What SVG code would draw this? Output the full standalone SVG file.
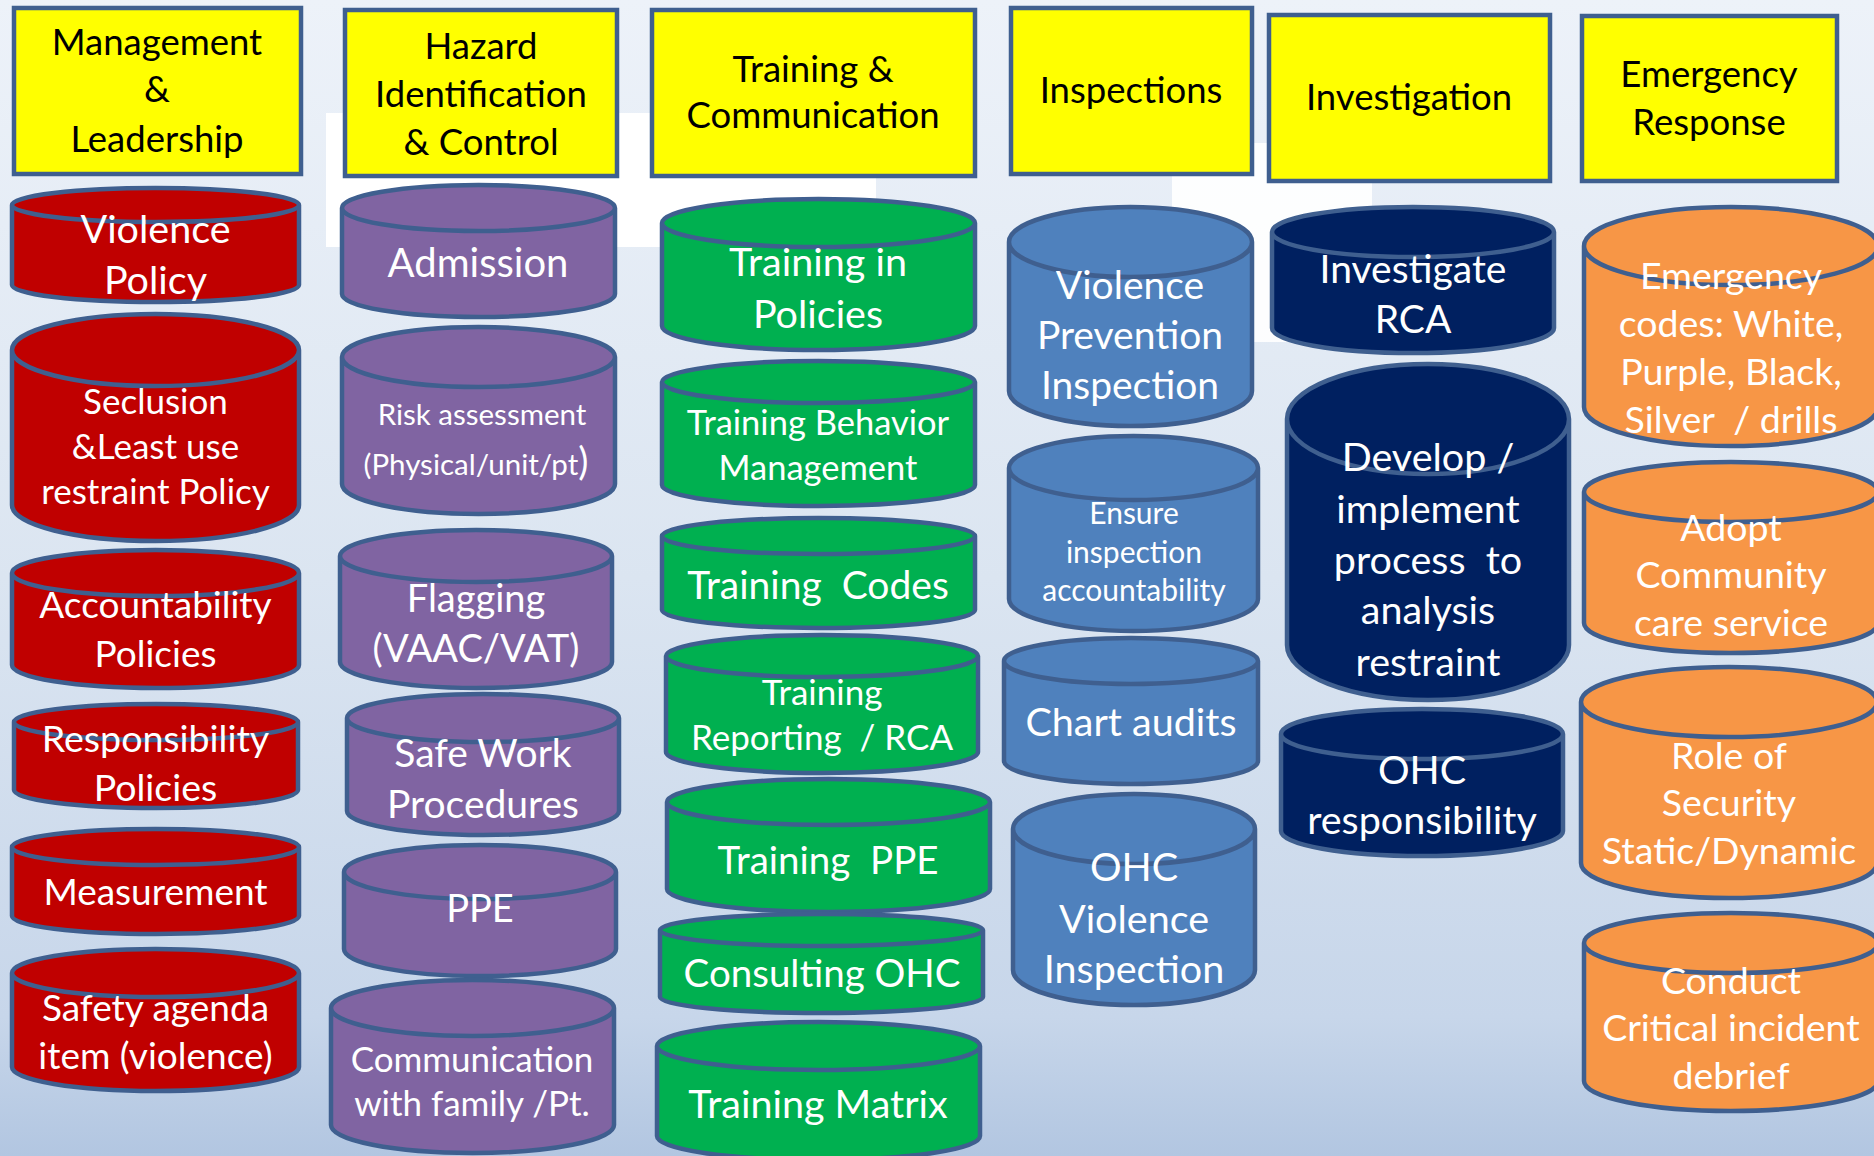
<svg xmlns="http://www.w3.org/2000/svg" width="1874" height="1156" viewBox="0 0 1874 1156">
<defs>
<linearGradient id="bg" x1="0" y1="0" x2="0" y2="1">
<stop offset="0" stop-color="#edf2f9"/>
<stop offset="0.5" stop-color="#dbe5f1"/>
<stop offset="0.88" stop-color="#c7d6ea"/>
<stop offset="1" stop-color="#b2c6e1"/>
</linearGradient>
<style>
.hdr{fill:#ffff00;stroke:#3f5f8f;stroke-width:4.5}
.cyl{stroke:#3f5f8f;stroke-width:4.5;stroke-linejoin:round}
.red{fill:#c00000}.pur{fill:#8064a2}.grn{fill:#00b050}.blu{fill:#4f81bd}.nav{fill:#002060}.org{fill:#f79646}
text{font-family:Lato,"Liberation Sans",sans-serif;text-anchor:middle}
.h{fill:#000;font-size:36.5px}
.w{fill:#fff}
</style>
</defs>
<rect width="1874" height="1156" fill="url(#bg)"/>
<rect x="326" y="113" width="550" height="134" fill="#ffffff"/>
<rect x="1172" y="143" width="200" height="199" fill="#ffffff" opacity="0.9"/>

<g id="headers">
<g id="h-management"><rect class="hdr" x="14" y="8" width="287" height="166"/>
<text class="h" x="157" y="55">Management</text><text class="h" x="157" y="102">&amp;</text><text class="h" x="157" y="152">Leadership</text></g>
<g id="h-hazard"><rect class="hdr" x="345" y="10" width="272" height="166"/>
<text class="h" x="481" y="59">Hazard</text><text class="h" x="481" y="107">Identification</text><text class="h" x="481" y="155">&amp; Control</text></g>
<g id="h-training"><rect class="hdr" x="652" y="10" width="323" height="166"/>
<text class="h" x="813" y="82">Training &amp;</text><text class="h" x="813" y="128">Communication</text></g>
<g id="h-inspections"><rect class="hdr" x="1011" y="8" width="241" height="166"/>
<text class="h" x="1131" y="103">Inspections</text></g>
<g id="h-investigation"><rect class="hdr" x="1269" y="15" width="281" height="166"/>
<text class="h" x="1409" y="110">Investigation</text></g>
<g id="h-emergency"><rect class="hdr" x="1582" y="16" width="255" height="165"/>
<text class="h" x="1709" y="87">Emergency</text><text class="h" x="1709" y="135">Response</text></g>
</g>

<g id="c-violence-policy"><path class="cyl red" d="M12 205V285A143.5 17 0 0 0 299 285V205A143.5 17 0 0 0 12 205ZM12 205A143.5 17 0 0 0 299 205"/>
<text class="w" style="font-size:39.5px" x="155.5" y="243">Violence</text><text class="w" style="font-size:39.5px" x="155.5" y="294">Policy</text></g>
<g id="c-seclusion"><path class="cyl red" d="M12 350V505A143.5 36 0 0 0 299 505V350A143.5 36 0 0 0 12 350ZM12 350A143.5 36 0 0 0 299 350"/>
<text class="w" style="font-size:35px" x="155.5" y="414">Seclusion</text><text class="w" style="font-size:35px" x="155.5" y="459">&amp;Least use</text><text class="w" style="font-size:35px" x="155.5" y="504">restraint Policy</text></g>
<g id="c-accountability"><path class="cyl red" d="M12 573V665A143.5 23 0 0 0 299 665V573A143.5 23 0 0 0 12 573ZM12 573A143.5 23 0 0 0 299 573"/>
<text class="w" style="font-size:37px" x="155.5" y="618">Accountability</text><text class="w" style="font-size:37px" x="155.5" y="667">Policies</text></g>
<g id="c-responsibility"><path class="cyl red" d="M14 722V790A142 18 0 0 0 298 790V722A142 18 0 0 0 14 722ZM14 722A142 18 0 0 0 298 722"/>
<text class="w" style="font-size:37.5px" x="155.5" y="752">Responsibility</text><text class="w" style="font-size:37.5px" x="155.5" y="801">Policies</text></g>
<g id="c-measurement"><path class="cyl red" d="M12 847V916A143.5 18 0 0 0 299 916V847A143.5 18 0 0 0 12 847ZM12 847A143.5 18 0 0 0 299 847"/>
<text class="w" style="font-size:37px" x="155.5" y="905">Measurement</text></g>
<g id="c-safety-agenda"><path class="cyl red" d="M12 973V1067A143.5 24 0 0 0 299 1067V973A143.5 24 0 0 0 12 973ZM12 973A143.5 24 0 0 0 299 973"/>
<text class="w" style="font-size:37px" x="155.5" y="1021">Safety agenda</text><text class="w" style="font-size:37px" x="155.5" y="1069">item (violence)</text></g>

<g id="c-admission"><path class="cyl pur" d="M342 208V294A136.5 23 0 0 0 615 294V208A136.5 23 0 0 0 342 208ZM342 208A136.5 23 0 0 0 615 208"/>
<text class="w" style="font-size:40px" x="478" y="277">Admission</text></g>
<g id="c-risk"><path class="cyl pur" d="M342 357V484A136.5 30 0 0 0 615 484V357A136.5 30 0 0 0 342 357ZM342 357A136.5 30 0 0 0 615 357"/>
<text class="w" style="font-size:29.5px" x="482" y="425">Risk assessment</text><text class="w" style="font-size:29.5px" x="476" y="475">(Physical/unit/pt<tspan style="font-size:38px">)</tspan></text></g>
<g id="c-flagging"><path class="cyl pur" d="M340 556V662A136 26 0 0 0 612 662V556A136 26 0 0 0 340 556ZM340 556A136 26 0 0 0 612 556"/>
<text class="w" style="font-size:38px" x="476" y="612">Flagging</text><text class="w" style="font-size:38px" x="476" y="662">(VAAC/VAT)</text></g>
<g id="c-safe-work"><path class="cyl pur" d="M347 718V811A136 24 0 0 0 619 811V718A136 24 0 0 0 347 718ZM347 718A136 24 0 0 0 619 718"/>
<text class="w" style="font-size:39px" x="483" y="767">Safe Work</text><text class="w" style="font-size:39px" x="483" y="818">Procedures</text></g>
<g id="c-ppe"><path class="cyl pur" d="M344 872V949A136 27 0 0 0 616 949V872A136 27 0 0 0 344 872ZM344 872A136 27 0 0 0 616 872"/>
<text class="w" style="font-size:38px" x="480" y="922">PPE</text></g>
<g id="c-communication"><path class="cyl pur" d="M331 1008V1125A141.5 28 0 0 0 614 1125V1008A141.5 28 0 0 0 331 1008ZM331 1008A141.5 28 0 0 0 614 1008"/>
<text class="w" style="font-size:35px" x="472" y="1072">Communication</text><text class="w" style="font-size:35px" x="472" y="1116">with family /Pt.</text></g>

<g id="c-training-policies"><path class="cyl grn" d="M662 223V326A156.5 24 0 0 0 975 326V223A156.5 24 0 0 0 662 223ZM662 223A156.5 24 0 0 0 975 223"/>
<text class="w" style="font-size:39.5px" x="818" y="276">Training in</text><text class="w" style="font-size:39.5px" x="818" y="328">Policies</text></g>
<g id="c-training-behavior"><path class="cyl grn" d="M662 382V485A156.5 21 0 0 0 975 485V382A156.5 21 0 0 0 662 382ZM662 382A156.5 21 0 0 0 975 382"/>
<text class="w" style="font-size:34.5px" x="818" y="435">Training Behavior</text><text class="w" style="font-size:34.5px" x="818" y="480">Management</text></g>
<g id="c-training-codes"><path class="cyl grn" d="M662 536V610A156.5 18 0 0 0 975 610V536A156.5 18 0 0 0 662 536ZM662 536A156.5 18 0 0 0 975 536"/>
<text class="w" style="font-size:39px" x="818" y="599" xml:space="preserve">Training  Codes</text></g>
<g id="c-training-reporting"><path class="cyl grn" d="M666 656V752A156 21 0 0 0 978 752V656A156 21 0 0 0 666 656ZM666 656A156 21 0 0 0 978 656"/>
<text class="w" style="font-size:35px" x="822" y="705">Training</text><text class="w" style="font-size:35px" x="822" y="750" xml:space="preserve">Reporting  / RCA</text></g>
<g id="c-training-ppe"><path class="cyl grn" d="M667 802V889A161.5 23 0 0 0 990 889V802A161.5 23 0 0 0 667 802ZM667 802A161.5 23 0 0 0 990 802"/>
<text class="w" style="font-size:38.5px" x="828" y="874" xml:space="preserve">Training  PPE</text></g>
<g id="c-consulting"><path class="cyl grn" d="M660 930V997A161.5 16 0 0 0 983 997V930A161.5 16 0 0 0 660 930ZM660 930A161.5 16 0 0 0 983 930"/>
<text class="w" style="font-size:38.5px" x="822" y="987">Consulting OHC</text></g>
<g id="c-training-matrix"><path class="cyl grn" d="M657 1046V1136A161.5 24 0 0 0 980 1136V1046A161.5 24 0 0 0 657 1046ZM657 1046A161.5 24 0 0 0 980 1046"/>
<text class="w" style="font-size:39.5px" x="818" y="1118">Training Matrix</text></g>

<g id="c-vpi"><path class="cyl blu" d="M1009 242V391A121.5 35 0 0 0 1252 391V242A121.5 35 0 0 0 1009 242ZM1009 242A121.5 35 0 0 0 1252 242"/>
<text class="w" style="font-size:39px" x="1130" y="299">Violence</text><text class="w" style="font-size:39px" x="1130" y="349">Prevention</text><text class="w" style="font-size:39px" x="1130" y="399">Inspection</text></g>
<g id="c-ensure"><path class="cyl blu" d="M1009 468V599A124.5 32 0 0 0 1258 599V468A124.5 32 0 0 0 1009 468ZM1009 468A124.5 32 0 0 0 1258 468"/>
<text class="w" style="font-size:30px" x="1134" y="524">Ensure</text><text class="w" style="font-size:30px" x="1134" y="563">inspection</text><text class="w" style="font-size:30px" x="1134" y="601">accountability</text></g>
<g id="c-chart"><path class="cyl blu" d="M1004 661V761A127 23 0 0 0 1258 761V661A127 23 0 0 0 1004 661ZM1004 661A127 23 0 0 0 1258 661"/>
<text class="w" style="font-size:39.5px" x="1131" y="736">Chart audits</text></g>
<g id="c-ohc-vi"><path class="cyl blu" d="M1013 829V970A121 35 0 0 0 1255 970V829A121 35 0 0 0 1013 829ZM1013 829A121 35 0 0 0 1255 829"/>
<text class="w" style="font-size:39.5px" x="1134" y="881">OHC</text><text class="w" style="font-size:39.5px" x="1134" y="933">Violence</text><text class="w" style="font-size:39.5px" x="1134" y="983">Inspection</text></g>

<g id="c-investigate"><path class="cyl nav" d="M1272 232V328A141 25 0 0 0 1554 328V232A141 25 0 0 0 1272 232ZM1272 232A141 25 0 0 0 1554 232"/>
<text class="w" style="font-size:39px" x="1413" y="283">Investigate</text><text class="w" style="font-size:39px" x="1413" y="333">RCA</text></g>
<g id="c-develop"><path class="cyl nav" d="M1287 419V645A141 55 0 0 0 1569 645V419A141 55 0 0 0 1287 419ZM1287 419A141 55 0 0 0 1569 419"/>
<text class="w" style="font-size:39.5px" x="1428" y="471">Develop /</text><text class="w" style="font-size:39.5px" x="1428" y="523">implement</text><text class="w" style="font-size:39.5px" x="1428" y="574" xml:space="preserve">process  to</text><text class="w" style="font-size:39.5px" x="1428" y="624">analysis</text><text class="w" style="font-size:39.5px" x="1428" y="676">restraint</text></g>
<g id="c-ohc-resp"><path class="cyl nav" d="M1281 734V831A141 25 0 0 0 1563 831V734A141 25 0 0 0 1281 734ZM1281 734A141 25 0 0 0 1563 734"/>
<text class="w" style="font-size:39.5px" x="1422" y="784">OHC</text><text class="w" style="font-size:39.5px" x="1422" y="834">responsibility</text></g>

<g id="c-emergency-codes"><path class="cyl org" d="M1584 246V407A147 39 0 0 0 1878 407V246A147 39 0 0 0 1584 246ZM1584 246A147 39 0 0 0 1878 246"/>
<text class="w" style="font-size:37.5px" x="1731" y="289">Emergency</text><text class="w" style="font-size:37.5px" x="1731" y="337">codes: White,</text><text class="w" style="font-size:37.5px" x="1731" y="385">Purple, Black,</text><text class="w" style="font-size:37.5px" x="1731" y="433" xml:space="preserve">Silver  / drills</text></g>
<g id="c-adopt"><path class="cyl org" d="M1584 492V623A147 30 0 0 0 1878 623V492A147 30 0 0 0 1584 492ZM1584 492A147 30 0 0 0 1878 492"/>
<text class="w" style="font-size:37.5px" x="1731" y="541">Adopt</text><text class="w" style="font-size:37.5px" x="1731" y="588">Community</text><text class="w" style="font-size:37.5px" x="1731" y="636">care service</text></g>
<g id="c-role-security"><path class="cyl org" d="M1581 702V863A148 35 0 0 0 1877 863V702A148 35 0 0 0 1581 702ZM1581 702A148 35 0 0 0 1877 702"/>
<text class="w" style="font-size:37.5px" x="1729" y="769">Role of</text><text class="w" style="font-size:37.5px" x="1729" y="816">Security</text><text class="w" style="font-size:37.5px" x="1729" y="864">Static/Dynamic</text></g>
<g id="c-conduct"><path class="cyl org" d="M1584 943V1081A147 30 0 0 0 1878 1081V943A147 30 0 0 0 1584 943ZM1584 943A147 30 0 0 0 1878 943"/>
<text class="w" style="font-size:37.5px" x="1731" y="994">Conduct</text><text class="w" style="font-size:37.5px" x="1731" y="1041">Critical incident</text><text class="w" style="font-size:37.5px" x="1731" y="1089">debrief</text></g>

<g id="connectors"></g>
</svg>
